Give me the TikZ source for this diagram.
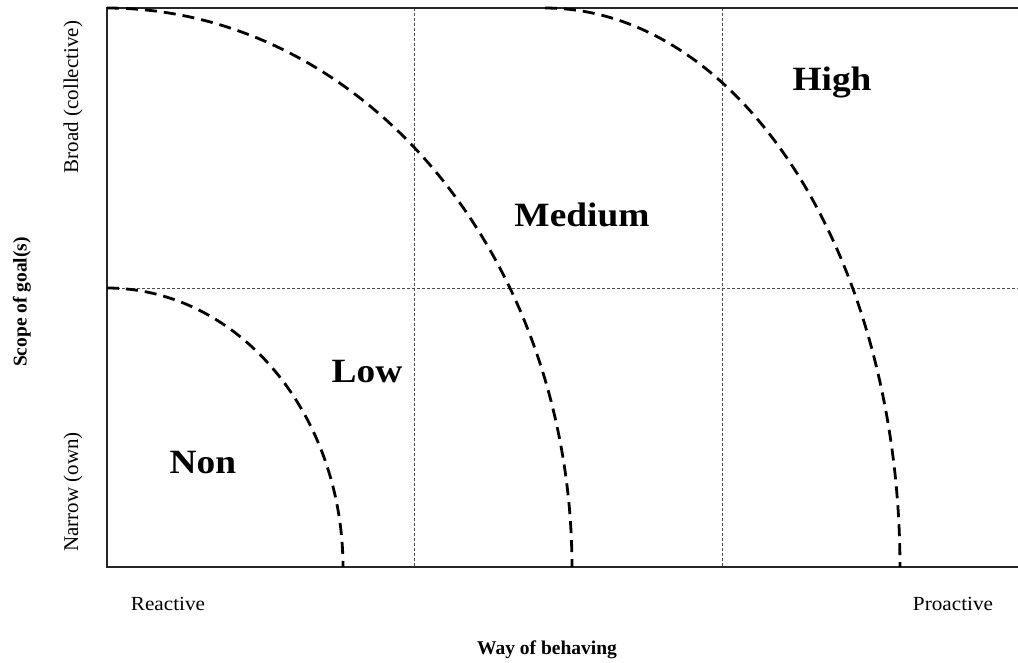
\documentclass[tikz,border=0pt]{standalone}
\usepackage{fontspec}
\setmainfont{Liberation Serif}
\begin{document}
\begin{tikzpicture}[x=1pt,y=-1pt,
  frame/.style={line width=1.3pt,draw=black!85},
  gridline/.style={line width=0.8pt,draw=black!70,dash pattern=on 3pt off 2pt},
  boundary/.style={line width=2.8pt,draw=black,dash pattern=on 12pt off 7pt},
  level/.style={font=\fontsize{34}{38}\selectfont\bfseries,xscale=1.1},
  tick/.style={font=\fontsize{20}{24}\selectfont,xscale=1.06},
  sidetick/.style={font=\fontsize{21}{24}\selectfont,rotate=90},
  axis/.style={font=\fontsize{19.5}{22}\selectfont\bfseries}]
\useasboundingbox (0,0) rectangle (1018,663);
% quadrant grid
\draw[gridline] (107,288) -- (1018,288);
\draw[gridline] (414,8) -- (414,567);
\draw[gridline] (722,8) -- (722,567);
% frame
\draw[frame] (1018,8) -- (107,8) -- (107,567) -- (1018,567);
% level boundaries (quarter ellipses)
\draw[boundary] plot[domain=90:0,samples=80] ({107+236*cos(\x)},{567-279*sin(\x)});
\draw[boundary] plot[domain=90:0,samples=120] ({107+465*cos(\x)},{567-559*sin(\x)});
\draw[boundary] plot[domain=90:0,samples=120] ({545+355*cos(\x)},{567-559*sin(\x)});
% level labels
\node[level] (high) at (832,82) {High};
\node[level] (medium) at (582,215) {Medium};
\node[level] (low) at (367,372) {Low};
\node[level] (non) at (203,463) {Non};
% axis ticks and titles
\node[tick] (reactive) at (168,604) {Reactive};
\node[tick] (proactive) at (953,604) {Proactive};
\node[axis] (xtitle) at (547,650) {Way of behaving};
\node[sidetick] (broad) at (73,97) {Broad (collective)};
\node[sidetick] (narrow) at (73,492) {Narrow (own)};
\node[axis,rotate=90] (ytitle) at (22,302) {Scope of goal(s)};
\end{tikzpicture}
\end{document}
